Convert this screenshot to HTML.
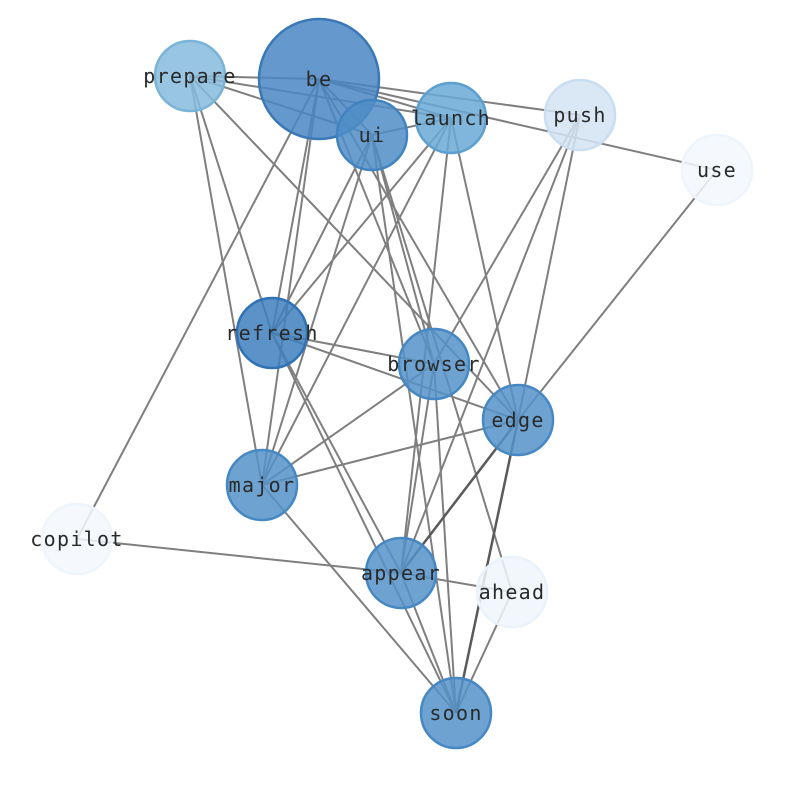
<!DOCTYPE html>
<html><head><meta charset="utf-8"><style>body{margin:0;background:#fff}svg{display:block}</style></head><body>
<svg width="794" height="790" viewBox="0 0 794 790" xmlns="http://www.w3.org/2000/svg">
<g stroke="#7f7f7f" stroke-width="2" fill="none">
<line x1="190" y1="76" x2="319" y2="79"/>
<line x1="190" y1="76" x2="372" y2="135"/>
<line x1="190" y1="76" x2="451" y2="118"/>
<line x1="190" y1="76" x2="272" y2="333"/>
<line x1="190" y1="76" x2="262" y2="485"/>
<line x1="190" y1="76" x2="518" y2="420"/>
<line x1="319" y1="79" x2="372" y2="135"/>
<line x1="319" y1="79" x2="451" y2="118"/>
<line x1="319" y1="79" x2="580" y2="115"/>
<line x1="319" y1="79" x2="717" y2="170"/>
<line x1="319" y1="79" x2="272" y2="333"/>
<line x1="319" y1="79" x2="262" y2="485"/>
<line x1="319" y1="79" x2="77" y2="539"/>
<line x1="319" y1="79" x2="434" y2="364"/>
<line x1="319" y1="79" x2="518" y2="420"/>
<line x1="372" y1="135" x2="451" y2="118"/>
<line x1="372" y1="135" x2="272" y2="333"/>
<line x1="372" y1="135" x2="262" y2="485"/>
<line x1="372" y1="135" x2="434" y2="364"/>
<line x1="372" y1="135" x2="456" y2="713"/>
<line x1="372" y1="135" x2="512" y2="592"/>
<line x1="451" y1="118" x2="272" y2="333"/>
<line x1="451" y1="118" x2="262" y2="485"/>
<line x1="451" y1="118" x2="518" y2="420"/>
<line x1="451" y1="118" x2="401" y2="573"/>
<line x1="580" y1="115" x2="434" y2="364"/>
<line x1="580" y1="115" x2="401" y2="573"/>
<line x1="580" y1="115" x2="518" y2="420"/>
<line x1="717" y1="170" x2="518" y2="420"/>
<line x1="272" y1="333" x2="434" y2="364"/>
<line x1="272" y1="333" x2="518" y2="420"/>
<line x1="272" y1="333" x2="401" y2="573"/>
<line x1="272" y1="333" x2="456" y2="713"/>
<line x1="434" y1="364" x2="262" y2="485"/>
<line x1="434" y1="364" x2="401" y2="573"/>
<line x1="434" y1="364" x2="456" y2="713"/>
<line x1="518" y1="420" x2="262" y2="485"/>
<line x1="262" y1="485" x2="456" y2="713"/>
<line x1="77" y1="539" x2="401" y2="573"/>
<line x1="401" y1="573" x2="512" y2="592"/>
<line x1="401" y1="573" x2="456" y2="713"/>
<line x1="512" y1="592" x2="456" y2="713"/>
</g>
<g stroke="#5a5a5a" stroke-width="2.5">
<line x1="518" y1="420" x2="401" y2="573"/>
<line x1="518" y1="420" x2="456" y2="713"/>
</g>
<g stroke-width="2.5" fill-opacity="0.85">
<circle cx="319" cy="79" r="60" fill="#4a86c3" stroke="#3a78b8"/>
<circle cx="190" cy="76" r="35" fill="#86bcdd" stroke="#7ab3d8"/>
<circle cx="372" cy="135" r="35" fill="#4f8dc6" stroke="#4183c0"/>
<circle cx="451" cy="118" r="35" fill="#6aa9d5" stroke="#5c9fd0"/>
<circle cx="580" cy="115" r="35" fill="#d3e4f4" stroke="#c9def1"/>
<circle cx="717" cy="170" r="35" fill="#f3f8fd" stroke="#eef5fc"/>
<circle cx="272" cy="333" r="35" fill="#3e7fbd" stroke="#2f72b5"/>
<circle cx="434" cy="364" r="35" fill="#5593c9" stroke="#4688c3"/>
<circle cx="518" cy="420" r="35" fill="#5593c9" stroke="#4688c3"/>
<circle cx="262" cy="485" r="35" fill="#5593c9" stroke="#4688c3"/>
<circle cx="77" cy="539" r="35" fill="#f3f8fd" stroke="#eef5fc"/>
<circle cx="401" cy="573" r="35" fill="#5593c9" stroke="#4688c3"/>
<circle cx="512" cy="592" r="35" fill="#f0f6fc" stroke="#eaf2fb"/>
<circle cx="456" cy="713" r="35" fill="#5593c9" stroke="#4688c3"/>
</g>
<g font-family="'DejaVu Sans Mono','Liberation Mono',monospace" font-size="20" letter-spacing="1.3" fill="#2a2a2a" text-anchor="middle" dominant-baseline="central">
<text x="319" y="79">be</text>
<text x="190" y="76">prepare</text>
<text x="372" y="135">ui</text>
<text x="451" y="118">launch</text>
<text x="580" y="115">push</text>
<text x="717" y="170">use</text>
<text x="272" y="333">refresh</text>
<text x="434" y="364">browser</text>
<text x="518" y="420">edge</text>
<text x="262" y="485">major</text>
<text x="77" y="539">copilot</text>
<text x="401" y="573">appear</text>
<text x="512" y="592">ahead</text>
<text x="456" y="713">soon</text>
</g>
</svg>
</body></html>
